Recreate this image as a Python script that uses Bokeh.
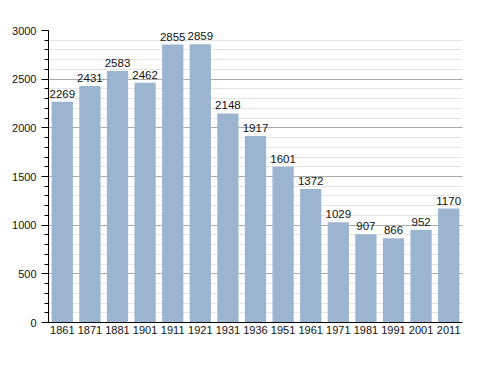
from bokeh.plotting import figure
from bokeh.models import ColumnDataSource, FactorRange, Range1d, SingleIntervalTicker, LabelSet
from bokeh.core.properties import value
from bokeh.embed import file_html
from bokeh.resources import INLINE

years = ["1861", "1871", "1881", "1901", "1911", "1921", "1931", "1936",
         "1951", "1961", "1971", "1981", "1991", "2001", "2011"]
population = [2269, 2431, 2583, 2462, 2855, 2859, 2148, 1917,
              1601, 1372, 1029, 907, 866, 952, 1170]

src = ColumnDataSource(dict(x=years, y=population, lab=[str(v) for v in population]))

p = figure(width=478, height=362, x_range=FactorRange(*years, range_padding=0),
           y_range=Range1d(0, 3000), output_backend="svg", toolbar_location=None,
           min_border_left=48, min_border_right=16, min_border_top=30, min_border_bottom=40)
p.outline_line_color = None
p.background_fill_color = "white"

p.vbar(x="x", top="y", width=0.77, source=src, color="#9bb4cf", line_color=None)

labels = LabelSet(x="x", y="y", text="lab", source=src, text_align="center",
                  text_baseline="bottom", y_offset=4, text_font_size="11.5px",
                  text_font=value("Liberation Sans"), text_color="#111111")
p.add_layout(labels)

p.yaxis.ticker = SingleIntervalTicker(interval=500, num_minor_ticks=5)
p.ygrid.grid_line_color = "#aaaaaa"
p.ygrid.minor_grid_line_color = "#e4e4e4"
p.xgrid.grid_line_color = None
p.yaxis.major_tick_out = 7
p.yaxis.major_tick_in = 0
p.yaxis.minor_tick_out = 4
p.yaxis.minor_tick_in = 0
p.yaxis.axis_line_color = "black"
p.yaxis.major_label_text_font = "Liberation Sans"
p.yaxis.major_label_text_font_size = "11px"
p.yaxis.major_label_text_color = "#111111"
p.yaxis.major_label_standoff = 5
p.xaxis.major_tick_out = 0
p.xaxis.major_tick_in = 0
p.xaxis.axis_line_color = "black"
p.xaxis.major_label_text_font = "Liberation Sans"
p.xaxis.major_label_text_font_size = "11px"
p.xaxis.major_label_text_color = "#111111"
p.xaxis.major_label_standoff = 3

open("out.html", "w").write(file_html(p, INLINE))
